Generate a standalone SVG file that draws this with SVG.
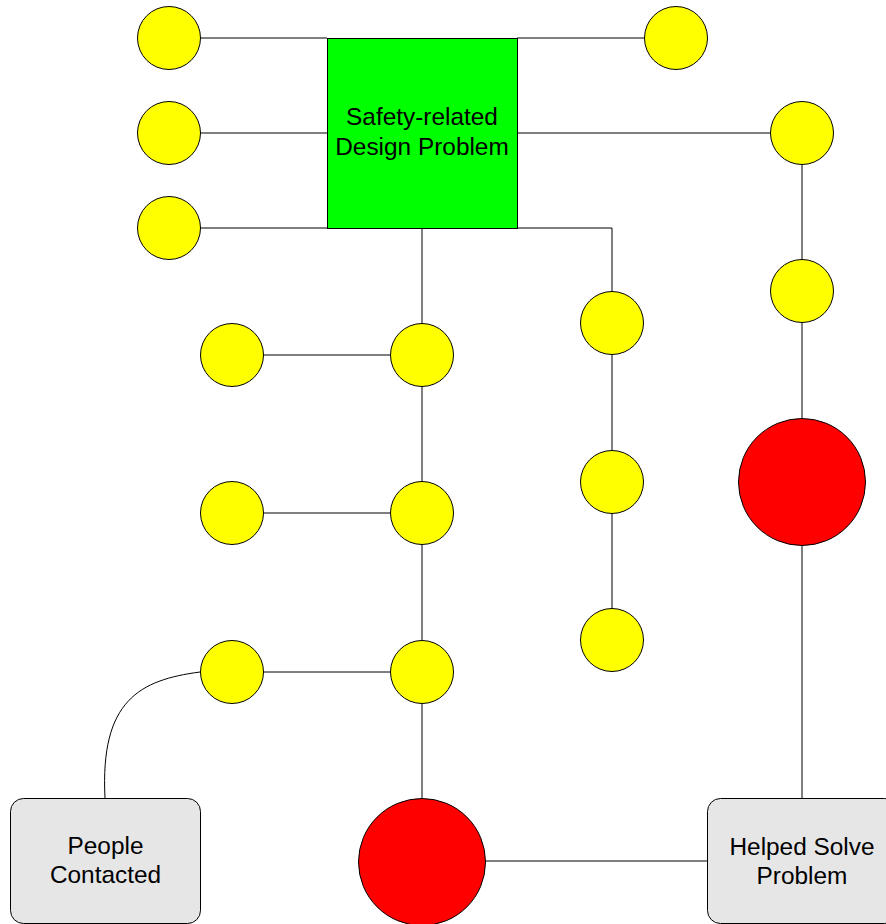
<svg xmlns="http://www.w3.org/2000/svg" width="886" height="924" viewBox="0 0 886 924">
<style>
.e{stroke:#000;stroke-width:1;fill:none}
.y{fill:#ffff00;stroke:#000;stroke-width:1}
.r{fill:#ff0000;stroke:#000;stroke-width:1}
.g{fill:#00ff00;stroke:#000;stroke-width:1}
.b{fill:#e6e6e6;stroke:#000;stroke-width:1}
text{font-family:"Liberation Sans",Arial,sans-serif;font-size:24.4px;fill:#000;text-anchor:middle}
</style>
<rect width="886" height="924" fill="#fff"/>
<g id="connectors">
<path class="e" d="M200,38H327M517,38H644M201,133H327M201,228H612V291M517,133H770M422,228V323M802,165V259M802,323V418M802,545V798M422,387V481M422,545V640M422,704V798M264,355H390M264,513H390M264,672H390M612,355V450M612,513V608M485,861H707"/>
<path class="e" d="M105,798C100,700 140,680 200,672"/>
</g>
<g id="problem"><rect class="g" x="327.5" y="38.5" width="190" height="190"/><text x="422" y="125">Safety-related</text><text x="422" y="155">Design Problem</text></g>
<g id="c1"><circle class="y" cx="169" cy="38" r="31.5"/></g>
<g id="c2"><circle class="y" cx="169" cy="133" r="31.5"/></g>
<g id="c3"><circle class="y" cx="169" cy="228" r="31.5"/></g>
<g id="c4"><circle class="y" cx="676" cy="38" r="31.5"/></g>
<g id="c5"><circle class="y" cx="802" cy="133" r="31.5"/></g>
<g id="c6"><circle class="y" cx="802" cy="291" r="31.5"/></g>
<g id="red1"><circle class="r" cx="802" cy="482" r="63.5"/></g>
<g id="c7"><circle class="y" cx="612" cy="323" r="31.5"/></g>
<g id="c8"><circle class="y" cx="612" cy="482" r="31.5"/></g>
<g id="c9"><circle class="y" cx="612" cy="640" r="31.5"/></g>
<g id="c10"><circle class="y" cx="422" cy="355" r="31.5"/></g>
<g id="c11"><circle class="y" cx="422" cy="513" r="31.5"/></g>
<g id="c12"><circle class="y" cx="422" cy="672" r="31.5"/></g>
<g id="c13"><circle class="y" cx="232" cy="355" r="31.5"/></g>
<g id="c14"><circle class="y" cx="232" cy="513" r="31.5"/></g>
<g id="c15"><circle class="y" cx="232" cy="672" r="31.5"/></g>
<g id="red2"><circle class="r" cx="422" cy="862" r="63.5"/></g>
<g id="people"><rect class="b" x="10.5" y="798.5" width="190" height="125" rx="13"/><text x="105.5" y="854">People</text><text x="105.5" y="883">Contacted</text></g>
<g id="helped"><rect class="b" x="707.5" y="798.5" width="190" height="125" rx="13"/><text x="802" y="855">Helped Solve</text><text x="802" y="884">Problem</text></g>
</svg>
